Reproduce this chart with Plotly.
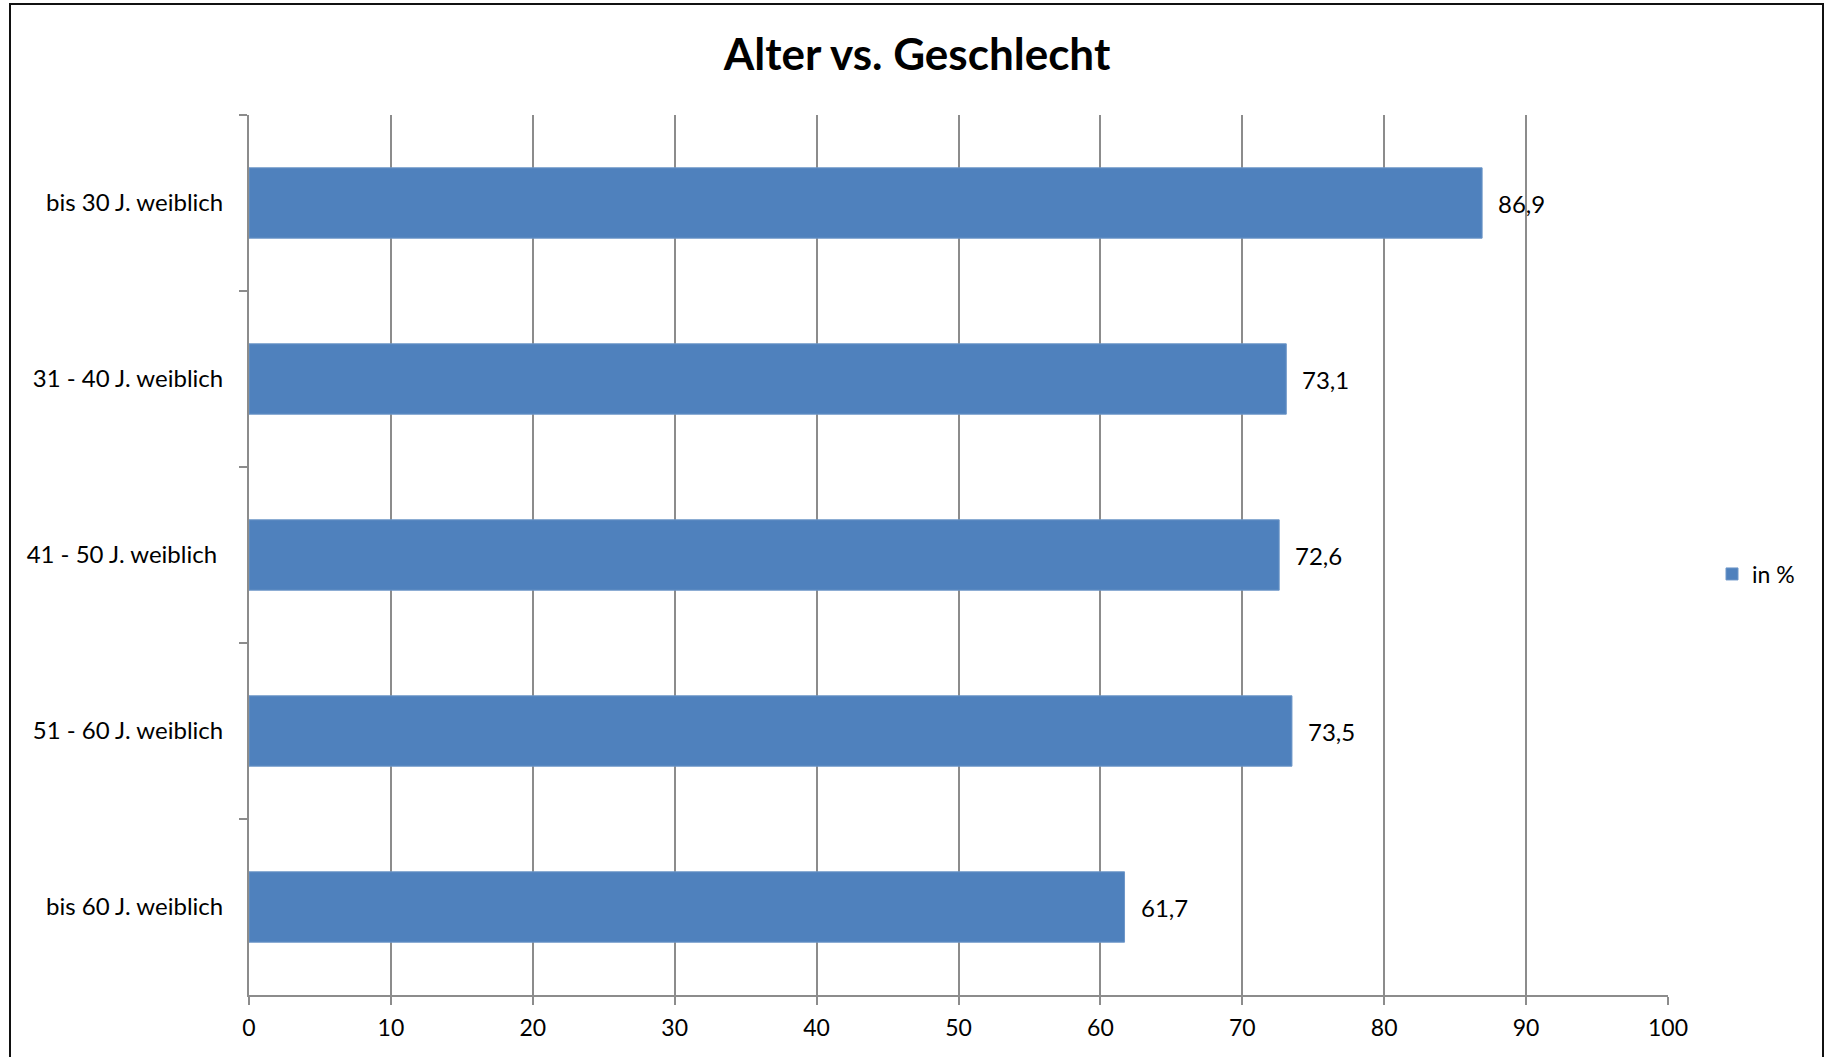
import plotly.graph_objects as go

categories = ["bis 30 J. weiblich", "31 - 40 J. weiblich", "41 - 50 J. weiblich\u00a0",
              "51 - 60 J. weiblich", "bis 60 J. weiblich"]
values = [86.9, 73.1, 72.6, 73.5, 61.7]
series_name = "in %"
title_text = "Alter vs. Geschlecht"
x_ticks = [0, 10, 20, 30, 40, 50, 60, 70, 80, 90, 100]

BAR = "#4F81BD"
GRID = "#8C8C8C"
FONT = "Lato"

W, H = 1829, 1057
px_left, px_right, px_top, px_bottom = 249, 1668, 115, 995
L, R, T, B = px_left, W - px_right, px_top, H - px_bottom
PW, PH = px_right - px_left, px_bottom - px_top

fig = go.Figure()
fig.add_trace(go.Bar(
    x=values, y=categories, orientation="h", name=series_name,
    marker=dict(color=BAR, line=dict(color="#6E97C8", width=1)),
    width=0.4, showlegend=True,
))

for v, c in zip(values, categories):
    fig.add_annotation(x=v, y=c, xref="x", yref="y", text=f"{v:.1f}".replace(".", ","),
                       showarrow=False, xanchor="left", yanchor="middle", xshift=14,
                       font=dict(family=FONT, size=24, color="black"))

# outer frame
fig.add_shape(type="rect", xref="paper", yref="paper",
              x0=(10 - L) / PW, x1=(1823 - L) / PW,
              y0=-0.3, y1=(px_bottom - 4) / PH,
              line=dict(color="#111111", width=2), fillcolor="rgba(0,0,0,0)", layer="below")

fig.update_layout(
    width=W, height=H,
    margin=dict(l=L, r=R, t=T, b=B, autoexpand=False),
    paper_bgcolor="white", plot_bgcolor="white",
    font=dict(family=FONT, size=24, color="black"),
    title=dict(text=f"<b>{title_text}</b>", x=917 / W, xanchor="center",
               y=1 - 55 / H, yanchor="middle", yref="container",
               font=dict(family=FONT, size=44, color="black")),
    legend=dict(x=(1712 - L) / PW, y=(px_bottom - 574) / PH,
                xanchor="left", yanchor="middle", font=dict(family=FONT, size=23),
                bgcolor="rgba(0,0,0,0)", itemwidth=30),
    bargap=0.6,
)
fig.update_xaxes(range=[0, 100], tickvals=x_ticks, showgrid=True, gridcolor=GRID, gridwidth=2,
                 showline=True, linecolor=GRID, linewidth=2, ticks="outside", ticklen=8,
                 tickwidth=2, tickcolor=GRID, zeroline=False, ticklabelstandoff=3,
                 tickfont=dict(family=FONT, size=23, color="black"), fixedrange=True)
fig.update_yaxes(categoryorder="array", categoryarray=categories, autorange="reversed",
                 showgrid=False, showline=True, linecolor=GRID, linewidth=2,
                 ticks="outside", ticklen=8, tickwidth=2, tickcolor=GRID, tickson="boundaries",
                 ticklabelstandoff=19, tickfont=dict(family=FONT, size=24, color="black"),
                 fixedrange=True)

fig.write_html("out.html", config={"displayModeBar": False},
               post_script="document.body.style.margin='0';document.body.style.overflow='hidden';")
